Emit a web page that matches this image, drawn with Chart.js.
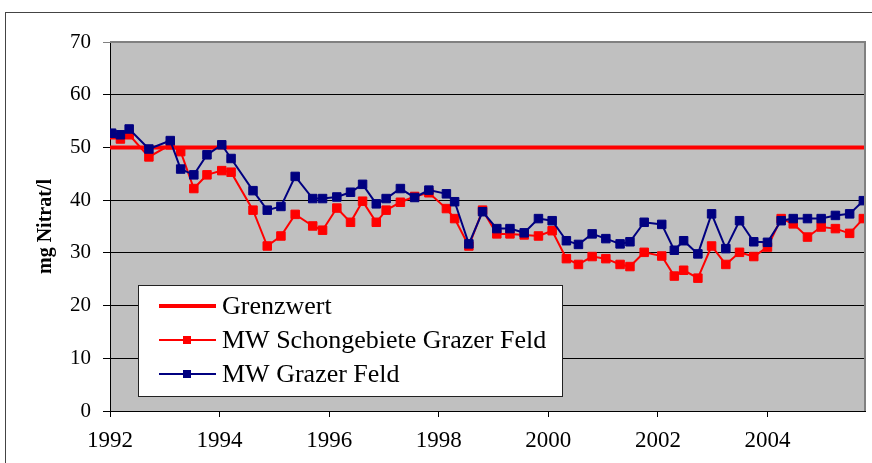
<!DOCTYPE html>
<html>
<head>
<meta charset="utf-8">
<script src="https://cdn.jsdelivr.net/npm/chart.js@4"></script>
<style>
  html, body { margin: 0; padding: 0; background: #fff; }
  #wrap { width: 872px; height: 463px; }
</style>
</head>
<body>
<div id="wrap"><canvas id="myChart" width="872" height="463"></canvas></div>
<script>
// sample dates (decimal years)
const dates = [
  1992.03, 1992.19, 1992.35, 1992.71, 1993.10, 1993.29, 1993.53, 1993.77,
  1994.04, 1994.21, 1994.61, 1994.87, 1995.12, 1995.38, 1995.70, 1995.88,
  1996.14, 1996.39, 1996.61, 1996.86, 1997.04, 1997.30, 1997.56, 1997.82,
  1998.14, 1998.29, 1998.55, 1998.80, 1999.06, 1999.30, 1999.56, 1999.82,
  2000.07, 2000.33, 2000.55, 2000.80, 2001.05, 2001.31, 2001.49, 2001.75,
  2002.07, 2002.30, 2002.47, 2002.73, 2002.98, 2003.24, 2003.49, 2003.75,
  2004.00, 2004.25, 2004.47, 2004.73, 2004.98, 2005.24, 2005.50, 2005.75
]

const schongebiete = [
  52.4, 51.6, 52.4, 48.2, 50.5, 49.2, 42.2, 44.8,
  45.6, 45.3, 38.1, 31.3, 33.2, 37.3, 35.1, 34.3,
  38.5, 35.8, 39.8, 35.8, 38.1, 39.6, 40.7, 41.4,
  38.4, 36.5, 31.3, 38.1, 33.6, 33.6, 33.4, 33.2,
  34.2, 28.9, 27.8, 29.3, 28.9, 27.8, 27.4, 30.1,
  29.4, 25.6, 26.7, 25.2, 31.3, 27.8, 30.1, 29.3,
  31.1, 36.5, 35.5, 33.0, 34.9, 34.6, 33.7, 36.5
]

const grazerFeld = [
  52.7, 52.4, 53.5, 49.7, 51.3, 45.9, 44.8, 48.6,
  50.5, 47.9, 41.8, 38.1, 38.8, 44.5, 40.3, 40.3,
  40.6, 41.5, 43.0, 39.3, 40.3, 42.2, 40.5, 41.9,
  41.2, 39.7, 31.7, 37.8, 34.6, 34.6, 33.8, 36.5,
  36.1, 32.3, 31.6, 33.6, 32.7, 31.7, 32.1, 35.8,
  35.4, 30.5, 32.3, 29.8, 37.4, 30.8, 36.1, 32.1,
  32.0, 36.1, 36.5, 36.5, 36.5, 37.1, 37.4, 39.9
]

const grenzwert = 50
const xMin = 1992
const xMax = 2005.78
const seriesLabels = ['Grenzwert', 'MW Schongebiete Grazer Feld', 'MW Grazer Feld']
const yTitle = 'mg Nitrat/l'

const FONT = "'Liberation Serif', 'Times New Roman', serif"

function toPoints(xs, ys) {
  return xs.map((x, i) => ({ x: x, y: ys[i] }))
}

// grey plot area, outer frame and the boxed legend inside the plot
const excelLook = {
  id: 'excelLook',
  beforeDraw(chart) {
    const { ctx, chartArea: a } = chart
    ctx.save()
    ctx.fillStyle = '#fff'
    ctx.fillRect(0, 0, chart.width, chart.height)
    ctx.strokeStyle = '#444'
    ctx.lineWidth = 1
    ctx.strokeRect(5.5, 12.5, chart.width + 20, chart.height + 20)
    ctx.fillStyle = '#C0C0C0'
    ctx.fillRect(a.left, a.top, a.right - a.left, a.bottom - a.top)
    ctx.restore()
  },
  afterDatasetsDraw(chart) {
    const { ctx, chartArea: a } = chart
    ctx.save()
    // grey border top/right
    ctx.strokeStyle = '#808080'
    ctx.lineWidth = 2
    ctx.beginPath()
    ctx.moveTo(a.left, a.top)
    ctx.lineTo(a.right, a.top)
    ctx.lineTo(a.right, a.bottom)
    ctx.stroke()

    // legend box
    const bx = 138.5, by = 285.5, bw = 424, bh = 111
    ctx.fillStyle = '#fff'
    ctx.fillRect(bx, by, bw, bh)
    ctx.strokeStyle = '#222'
    ctx.lineWidth = 1
    ctx.strokeRect(bx, by, bw, bh)

    const rows = [306, 340, 374]
    chart.data.datasets.forEach((ds, i) => {
      const y = rows[i]
      ctx.strokeStyle = ds.borderColor
      ctx.lineWidth = ds.borderWidth
      ctx.beginPath()
      ctx.moveTo(159, y)
      ctx.lineTo(216, y)
      ctx.stroke()
      if (ds.pointRadius > 0) {
        ctx.fillStyle = ds.pointBackgroundColor
        ctx.fillRect(183, y - 4, 8, 8)
      }
      ctx.fillStyle = '#000'
      ctx.font = '26px ' + FONT
      ctx.textBaseline = 'middle'
      ctx.textAlign = 'left'
      ctx.fillText(ds.label, 222, y + 1)
    })
    ctx.restore()
  }
}

const ctx = document.getElementById('myChart')
const myChart = new Chart(ctx, {
  type: 'line',
  data: {
    datasets: [{
      label: seriesLabels[0],
      data: [{ x: xMin, y: grenzwert }, { x: xMax, y: grenzwert }],
      borderColor: '#FF0000',
      borderWidth: 4,
      pointRadius: 0,
      order: 3
    }, {
      label: seriesLabels[1],
      data: toPoints(dates, schongebiete),
      borderColor: '#FF0000',
      backgroundColor: '#FF0000',
      pointBackgroundColor: '#FF0000',
      pointBorderColor: '#FF0000',
      borderWidth: 2,
      pointStyle: 'rect',
      pointRadius: 6,
      pointBorderWidth: 1,
      order: 2
    }, {
      label: seriesLabels[2],
      data: toPoints(dates, grazerFeld),
      borderColor: '#000080',
      backgroundColor: '#000080',
      pointBackgroundColor: '#000080',
      pointBorderColor: '#000080',
      borderWidth: 2,
      pointStyle: 'rect',
      pointRadius: 6,
      pointBorderWidth: 1,
      order: 1
    }]
  },
  options: {
    responsive: false,
    animation: false,
    layout: { padding: { top: 42, right: 4, left: 0, bottom: 0 } },
    plugins: {
      legend: { display: false },
      tooltip: { enabled: false }
    },
    scales: {
      x: {
        type: 'linear',
        min: xMin,
        max: xMax,
        afterFit(scale) { scale.height = 52 },
        border: { color: '#000', width: 1 },
        grid: { drawOnChartArea: false, drawTicks: true, tickLength: 6, color: '#000' },
        ticks: {
          stepSize: 2,
          includeBounds: false,
          padding: 10,
          color: '#000',
          maxRotation: 0,
          font: { family: FONT, size: 23 },
          callback: v => String(v)
        }
      },
      y: {
        min: 0,
        max: 70,
        afterFit(scale) { scale.width = 110 },
        border: { color: '#000', width: 1 },
        grid: {
          color: c => c.tick && c.tick.value === 70 ? '#808080' : '#000',
          lineWidth: 1,
          tickLength: 7
        },
        ticks: {
          stepSize: 10,
          padding: 12,
          color: '#000',
          font: { family: FONT, size: 21 }
        },
        title: {
          display: true,
          text: yTitle,
          color: '#000',
          padding: { top: 34, bottom: 0 },
          font: { family: FONT, size: 20, weight: 'bold' }
        }
      }
    }
  },
  plugins: [excelLook]
})
</script>
</body>
</html>
